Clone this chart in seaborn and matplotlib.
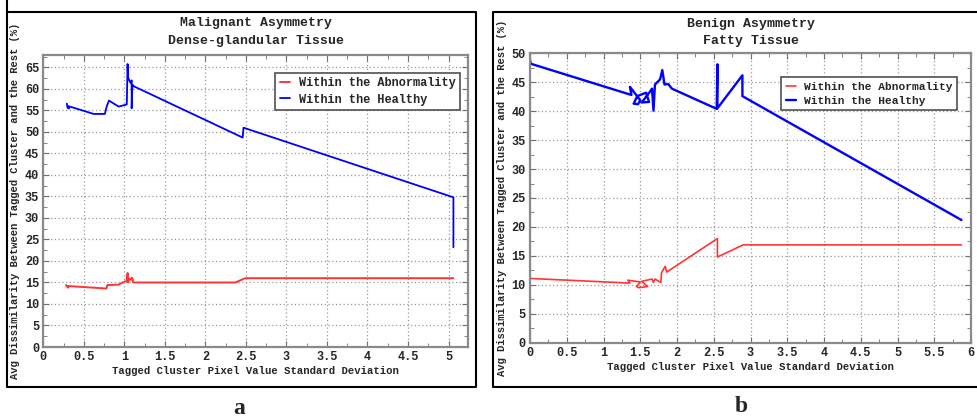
import matplotlib
matplotlib.use("Agg")
import matplotlib.pyplot as plt
import seaborn as sns
import pandas as pd
from matplotlib.lines import Line2D
from matplotlib.ticker import MultipleLocator

# panel a: malignant asymmetry, dense-glandular tissue
a_healthy_x = [0.29, 0.30, 0.32, 0.31, 0.45, 0.62, 0.76, 0.78, 0.81, 0.93, 1.03, 1.04, 1.045, 1.06,
               1.08, 1.09, 1.09, 1.10, 1.12, 2.46, 2.47, 5.06, 5.06]
a_healthy_y = [56.6, 55.6, 55.5, 56.0, 55.2, 54.2, 54.2, 55.8, 57.3, 55.9, 56.4, 65.8, 62.8, 62.0,
               61.3, 62.0, 55.5, 61.0, 60.6, 48.7, 51.0, 34.8, 23.2]
a_abnorm_x = [0.28, 0.31, 0.29, 0.45, 0.62, 0.78, 0.79, 0.93, 0.98, 1.03, 1.04, 1.045, 1.06, 1.08,
              1.09, 1.10, 1.11, 2.37, 2.49, 5.06]
a_abnorm_y = [14.4, 13.8, 14.2, 14.0, 13.8, 13.6, 14.4, 14.5, 15.0, 15.4, 17.2, 15.0, 15.9, 15.6,
              16.1, 16.0, 15.0, 15.0, 16.0, 16.0]

# panel b: benign asymmetry, fatty tissue
b_healthy_x = [0.0, 0.01, 1.38, 1.36, 1.42, 1.50, 1.47, 1.41, 1.46, 1.58, 1.62, 1.52, 1.64, 1.66,
               1.68, 1.70, 1.77, 1.80, 1.83, 1.88, 1.93, 2.54, 2.55, 2.55, 2.89, 2.89, 5.87]
b_healthy_y = [48.9, 48.2, 42.8, 44.2, 43.2, 41.9, 41.2, 41.3, 42.6, 43.2, 41.6, 41.5, 43.5, 43.9,
               40.1, 44.6, 45.5, 47.1, 44.6, 44.7, 43.9, 40.4, 48.1, 40.5, 46.2, 42.6, 21.2]
b_abnorm_x = [0.0, 1.36, 1.33, 1.50, 1.45, 1.48, 1.60, 1.52, 1.66, 1.68, 1.70, 1.78, 1.79, 1.84,
              1.86, 2.55, 2.55, 2.90, 5.87]
b_abnorm_y = [11.1, 10.3, 10.8, 10.5, 9.7, 9.5, 9.7, 10.6, 11.0, 10.4, 11.0, 10.4, 12.1, 13.2,
              12.2, 18.0, 14.8, 16.9, 16.9]

series_names = ["Within the Abnormality", "Within the Healthy"]
xlabel = "Tagged Cluster Pixel Value Standard Deviation"
ylabel = "Avg Dissimilarity Between Tagged Cluster and the Rest (%)"

sns.set_style("ticks")
plt.rcParams['font.family'] = ['Liberation Mono', 'DejaVu Sans Mono']
plt.rcParams['font.weight'] = 'bold'

fig = plt.figure(figsize=(9.78, 4.17), dpi=100)
W, H = 978.0, 417.0


def px_axes(l, t, r, b):
    return fig.add_axes([l / W, 1 - b / H, (r - l) / W, (b - t) / H])


def style_axes(ax, xlim, ylim, xmajor, ymajor):
    ax.set_xlim(*xlim)
    ax.set_ylim(*ylim)
    ax.xaxis.set_major_locator(MultipleLocator(xmajor))
    ax.xaxis.set_minor_locator(MultipleLocator(xmajor / 2))
    ax.yaxis.set_major_locator(MultipleLocator(ymajor))
    ax.yaxis.set_minor_locator(MultipleLocator(ymajor / 2))
    ax.xaxis.set_major_formatter(matplotlib.ticker.FuncFormatter(lambda v, p: f"{v:g}"))
    ax.grid(True, which='major', linestyle=(0, (1, 2)), color='#9a9a9a', linewidth=0.9)
    ax.tick_params(which='both', direction='in', top=True, right=True, color='#707070',
                   labelsize=8.6, pad=3)
    ax.tick_params(which='major', length=4)
    ax.tick_params(which='minor', length=3)
    for s in ax.spines.values():
        s.set_color('#8a8a8a')
        s.set_linewidth(1.6)
    ax.set_xlabel(xlabel, fontsize=7.7, fontweight='bold', labelpad=2)
    ax.set_ylabel(ylabel, fontsize=7.6, fontweight='bold')
    for lab in ax.get_xticklabels() + ax.get_yticklabels():
        lab.set_fontweight('bold')


def draw(ax, ab_x, ab_y, he_x, he_y, lw_red, lw_blue):
    dfa = pd.DataFrame({"x": ab_x, "y": ab_y})
    dfh = pd.DataFrame({"x": he_x, "y": he_y})
    sns.lineplot(data=dfa, x="x", y="y", sort=False, estimator=None, color='#ff3535',
                 linewidth=lw_red, label=series_names[0], ax=ax)
    sns.lineplot(data=dfh, x="x", y="y", sort=False, estimator=None, color='#0000ff',
                 linewidth=lw_blue, label=series_names[1], ax=ax)


# panel a
ax1 = px_axes(43.3, 55, 468, 347)
draw(ax1, a_abnorm_x, a_abnorm_y, a_healthy_x, a_healthy_y, 1.4, 1.3)
style_axes(ax1, (0, 5.24), (0, 67.9), 0.5, 5)
ax1.yaxis.set_label_coords(-0.056, 0.5)
leg1 = ax1.legend(loc='upper right', bbox_to_anchor=(0.996, 0.96), fancybox=False,
                  edgecolor='#505050', framealpha=1, handlelength=0.9, handletextpad=0.7,
                  borderpad=0.4, labelspacing=0.35, prop={'size': 8.6, 'weight': 'bold'})
leg1.get_frame().set_linewidth(1.2)
fig.text(255.6 / W, 1 - 23 / H, "Malignant Asymmetry", ha='center', va='center',
         fontsize=9.5, fontweight='bold')
fig.text(255.6 / W, 1 - 41 / H, "Dense-glandular Tissue", ha='center', va='center',
         fontsize=9.5, fontweight='bold')

# panel b
ax2 = px_axes(530, 53.3, 971, 342.7)
draw(ax2, b_abnorm_x, b_abnorm_y, b_healthy_x, b_healthy_y, 1.2, 1.7)
style_axes(ax2, (0, 6), (0, 50), 0.5, 5)
ax2.yaxis.set_label_coords(-0.053, 0.5)
leg2 = ax2.legend(loc='upper right', bbox_to_anchor=(0.98, 0.936), fancybox=False,
                  edgecolor='#505050', framealpha=1, handlelength=0.9, handletextpad=0.7,
                  borderpad=0.4, labelspacing=0.35, prop={'size': 8.1, 'weight': 'bold'})
leg2.get_frame().set_linewidth(1.2)
fig.text(751 / W, 1 - 24 / H, "Benign Asymmetry", ha='center', va='center',
         fontsize=9.5, fontweight='bold')
fig.text(751 / W, 1 - 41 / H, "Fatty Tissue", ha='center', va='center',
         fontsize=9.5, fontweight='bold')

# panel frames
def fline(xs, ys):
    fig.add_artist(Line2D([x / W for x in xs], [1 - y / H for y in ys], color='black',
                          linewidth=1.5, transform=fig.transFigure))

fline([6.7, 6.7, 476, 476, 6.7], [0, 386.5, 386.5, 11.5, 11.5])
fline([990, 493.3, 493.3, 990], [11.7, 11.7, 386.5, 386.5])

fig.text(239.5 / W, 1 - 408 / H, "a", ha='center', va='center', fontsize=17,
         fontweight='bold', family='Liberation Serif')
fig.text(741.5 / W, 1 - 406 / H, "b", ha='center', va='center', fontsize=17,
         fontweight='bold', family='Liberation Serif')

fig.savefig("out.png", dpi=100)
